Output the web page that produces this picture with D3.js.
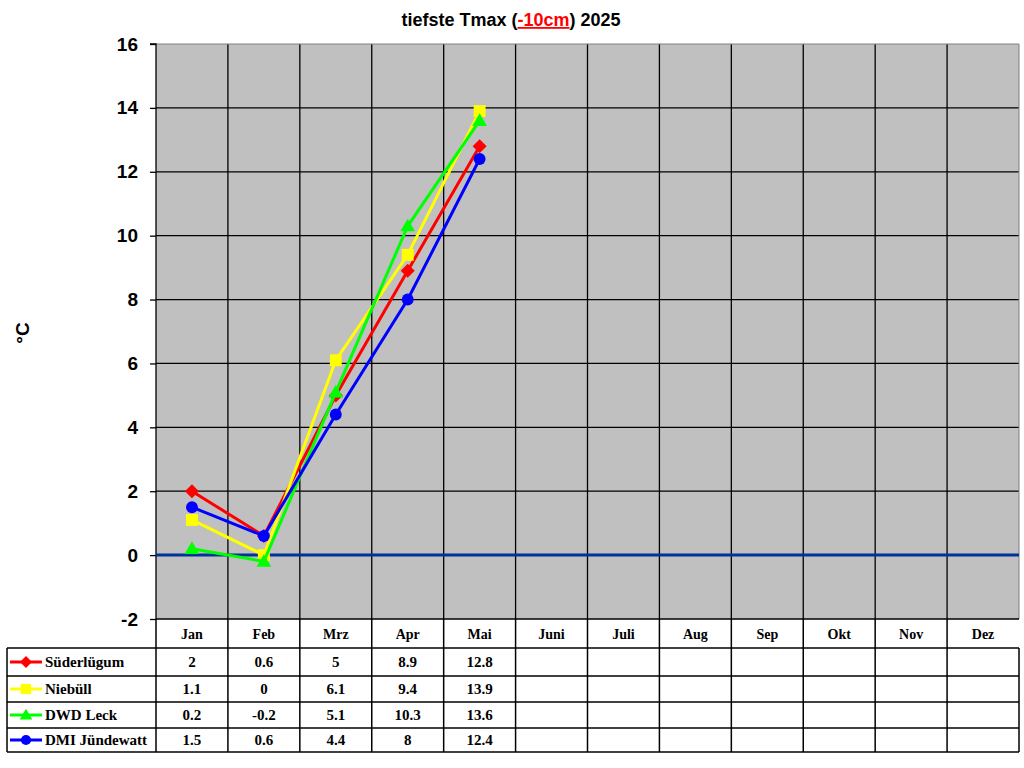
<!DOCTYPE html>
<html><head><meta charset="utf-8">
<script src="https://cdn.jsdelivr.net/npm/d3@7"></script>
<style>body{margin:0;background:#fff}svg{display:block}</style>
</head><body>
<script>
const months = ["Jan","Feb","Mrz","Apr","Mai","Juni","Juli","Aug","Sep","Okt","Nov","Dez"];
const yTicks = [-2,0,2,4,6,8,10,12,14,16];
const seriesNames = ["Süderlügum","Niebüll","DWD Leck","DMI Jündewatt"];
const seriesColors = ["#FF0000","#FFFF00","#00FF00","#0000FF"];
const seriesSymbols = ["diamond","square","triangle","circle"];
const sSuederluegum = [2,0.6,5,8.9,12.8];
const sNiebuell = [1.1,0,6.1,9.4,13.9];
const sLeck = [0.2,-0.2,5.1,10.3,13.6];
const sJuendewatt = [1.5,0.6,4.4,8,12.4];
const seriesValues = [sSuederluegum,sNiebuell,sLeck,sJuendewatt];

const W=1024,H=768;
const L=156,R=1019,T=44,B=619;
const svg=d3.select("body").append("svg").attr("width",W).attr("height",H);
const x=d3.scaleBand().domain(months).range([L,R]);
const y=d3.scaleLinear().domain([-2,16]).range([B,T]);

svg.append("rect").attr("x",L).attr("y",T).attr("width",R-L).attr("height",B-T).attr("fill","#C0C0C0");
// grid
svg.append("g").selectAll("line").data(yTicks.slice(1,-1)).join("line")
 .attr("x1",L).attr("x2",R).attr("y1",d=>y(d)).attr("y2",d=>y(d)).attr("stroke","#000").attr("stroke-width",1.3);
svg.append("g").selectAll("line").data(months.slice(1)).join("line")
 .attr("x1",d=>x(d)).attr("x2",d=>x(d)).attr("y1",T).attr("y2",B).attr("stroke","#000").attr("stroke-width",1.3);
svg.append("line").attr("x1",L).attr("x2",R).attr("y1",T).attr("y2",T).attr("stroke","#808080").attr("stroke-width",1);
svg.append("line").attr("x1",R).attr("x2",R).attr("y1",T).attr("y2",B).attr("stroke","#808080").attr("stroke-width",1);

// y axis
const ya=svg.append("g").attr("transform",`translate(${L},0)`).call(d3.axisLeft(y).tickValues(yTicks).tickSize(6).tickPadding(12).tickFormat(d=>String(d)));
ya.select(".domain").attr("stroke","#000").attr("stroke-width",1.3).attr("d",`M-6,${T}H0V${B}`);
ya.selectAll(".tick line").attr("stroke","#000").attr("stroke-width",1.3);
ya.selectAll("text").attr("font-family","Liberation Sans, Arial").attr("font-weight","bold").attr("font-size",19).attr("fill","#000");

// zero line
svg.append("line").attr("x1",L).attr("x2",R).attr("y1",y(0)).attr("y2",y(0)).attr("stroke","#003399").attr("stroke-width",3);

// series
function markerPath(kind,s){
  if(kind==="diamond") return `M0,${-s}L${s},0L0,${s}L${-s},0Z`;
  if(kind==="square") return `M${-s*0.85},${-s*0.85}H${s*0.85}V${s*0.85}H${-s*0.85}Z`;
  if(kind==="triangle") return `M0,${-s*1.05}L${s*1.05},${s*0.75}L${-s*1.05},${s*0.75}Z`;
  const r=s*0.85; return `M${r},0A${r},${r},0,1,1,${-r},0A${r},${r},0,1,1,${r},0Z`;
}
const line=d3.line().x((d,i)=>x(months[i])+x.bandwidth()/2).y(d=>y(d));
seriesValues.forEach((vals,k)=>{
  const g=svg.append("g");
  g.append("path").attr("d",line(vals)).attr("fill","none").attr("stroke",seriesColors[k]).attr("stroke-width",3);
  g.selectAll("path.m").data(vals).join("path").attr("class","m")
   .attr("transform",(d,i)=>`translate(${x(months[i])+x.bandwidth()/2},${y(d)})`)
   .attr("d",markerPath(seriesSymbols[k],7))
   .attr("fill",seriesColors[k]);
});

// bottom table
const rowTop=648, rowH=[28,26,26,24];
const rowYs=[rowTop]; rowH.forEach((h,i)=>rowYs.push(rowYs[i]+h));
const tl=svg.append("g").attr("stroke","#000").attr("stroke-width",1.5);
months.forEach(m=>tl.append("line").attr("x1",x(m)).attr("x2",x(m)).attr("y1",B).attr("y2",rowYs[4]));
tl.append("line").attr("x1",R).attr("x2",R).attr("y1",rowTop).attr("y2",rowYs[4]);
tl.append("line").attr("x1",L).attr("x2",R).attr("y1",B).attr("y2",B);
rowYs.forEach(yy=>tl.append("line").attr("x1",7).attr("x2",R).attr("y1",yy).attr("y2",yy));
tl.append("line").attr("x1",7).attr("x2",7).attr("y1",rowTop).attr("y2",rowYs[4]);

svg.append("g").selectAll("text").data(months).join("text")
 .attr("x",d=>x(d)+x.bandwidth()/2).attr("y",639).attr("text-anchor","middle")
 .attr("font-family","Liberation Serif, Times New Roman").attr("font-weight","bold").attr("font-size",14).text(d=>d);

seriesNames.forEach((nm,k)=>{
  const cy=(rowYs[k]+rowYs[k+1])/2;
  svg.append("line").attr("x1",10).attr("x2",42).attr("y1",cy).attr("y2",cy).attr("stroke",seriesColors[k]).attr("stroke-width",3);
  svg.append("path").attr("transform",`translate(26,${cy})`).attr("d",markerPath(seriesSymbols[k],6)).attr("fill",seriesColors[k]);
  svg.append("text").attr("x",45).attr("y",cy+5).attr("font-family","Liberation Serif, Times New Roman").attr("font-weight","bold").attr("font-size",15).text(nm);
  svg.append("g").selectAll("text").data(seriesValues[k]).join("text")
   .attr("x",(d,i)=>x(months[i])+x.bandwidth()/2).attr("y",cy+5).attr("text-anchor","middle")
   .attr("font-family","Liberation Serif, Times New Roman").attr("font-weight","bold").attr("font-size",15).text(d=>d);
});

// title
const t=svg.append("text").attr("x",511).attr("y",26).attr("text-anchor","middle")
 .attr("font-family","Liberation Sans, Arial").attr("font-weight","bold").attr("font-size",18);
t.append("tspan").text("tiefste Tmax (");
t.append("tspan").attr("fill","#FF0000").attr("text-decoration","underline").text("-10cm");
t.append("tspan").text(") 2025");

// y label
svg.append("text").attr("transform","translate(29,333) rotate(-90)").attr("text-anchor","middle")
 .attr("font-family","Liberation Sans, Arial").attr("font-weight","bold").attr("font-size",19).text("°C");
</script>
</body></html>
